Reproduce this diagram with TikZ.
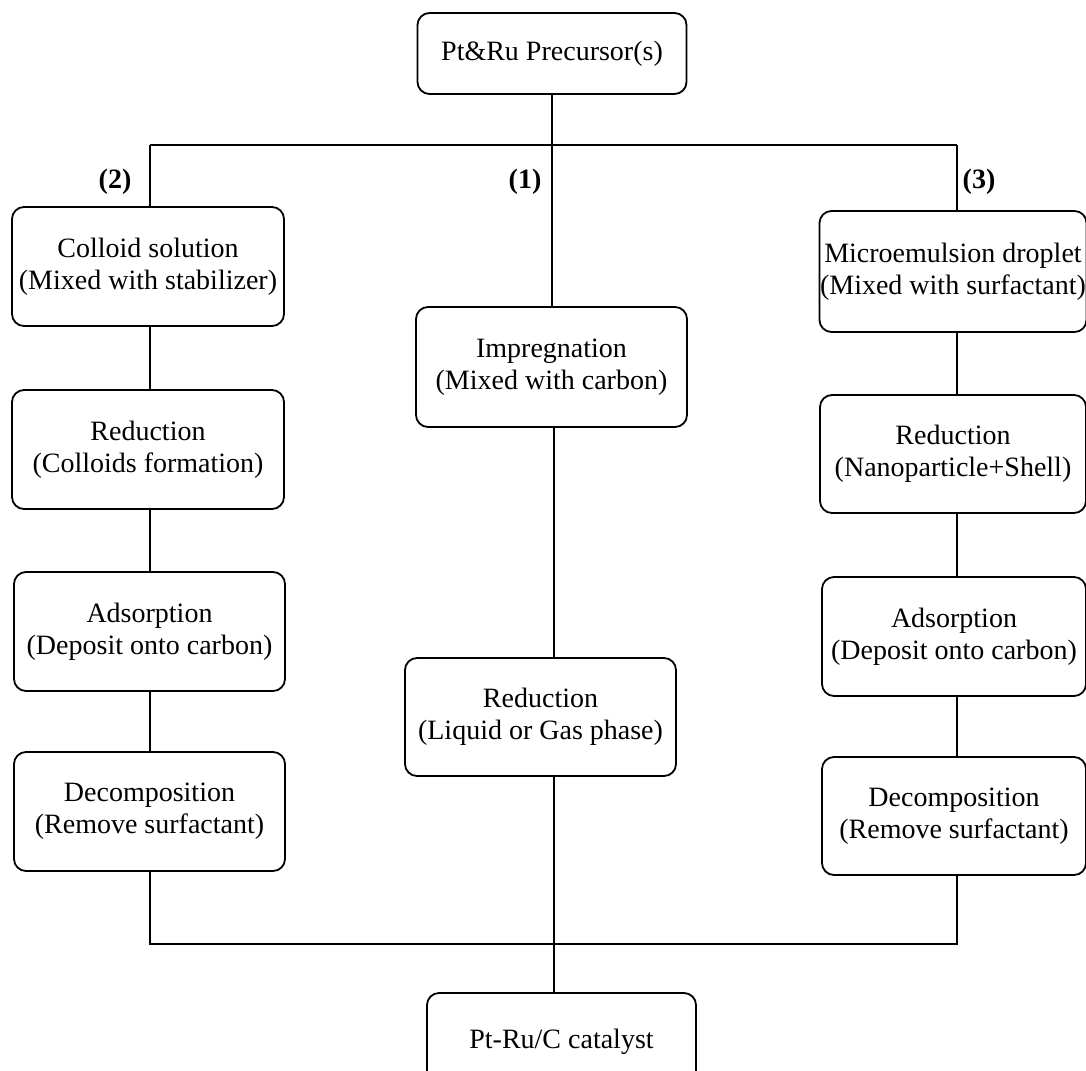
\documentclass[tikz,border=0pt]{standalone}
\usepackage{fontspec}
\setmainfont{Liberation Serif}
\begin{document}
\begin{tikzpicture}[x=1pt,y=-1pt,
  box/.style={draw, rounded corners=12pt, line width=1.8pt, align=center,
    font=\fontsize{28}{32}\selectfont, inner sep=0pt},
  conn/.style={line width=1.8pt},
  lab/.style={font=\fontsize{28}{32}\selectfont\bfseries}]
\useasboundingbox (0,0) rectangle (1086,1070);

% top
\node[box, minimum width=269pt, minimum height=81pt] (top) at (552,53.5) {Pt\&Ru Precursor(s)};

% left column
\node[box, minimum width=272pt, minimum height=119pt] (colloid) at (148,266.5) {Colloid solution\\(Mixed with stabilizer)};
\node[box, minimum width=272pt, minimum height=119pt] (redL) at (148,449.5) {Reduction\\(Colloids formation)};
\node[box, minimum width=271pt, minimum height=119pt] (adsL) at (149.5,631.5) {Adsorption\\(Deposit onto carbon)};
\node[box, minimum width=271pt, minimum height=119pt] (decL) at (149.5,811.5) {Decomposition\\(Remove surfactant)};

% center column
\node[box, minimum width=271pt, minimum height=120pt] (imp) at (551.5,367) {Impregnation\\(Mixed with carbon)};
\node[box, minimum width=271pt, minimum height=118pt] (redC) at (540.5,717) {Reduction\\(Liquid or Gas phase)};
\node[box, minimum width=269pt, minimum height=97pt] (final) at (561.5,1041.5) {Pt-Ru/C catalyst};

% right column
\node[box, minimum width=267pt, minimum height=121pt] (micro) at (953,271.5) {Microemulsion droplet\\(Mixed with surfactant)};
\node[box, minimum width=266pt, minimum height=118pt] (redR) at (953,454) {Reduction\\(Nanoparticle+Shell)};
\node[box, minimum width=264pt, minimum height=119pt] (adsR) at (954,636.5) {Adsorption\\(Deposit onto carbon)};
\node[box, minimum width=264pt, minimum height=118pt] (decR) at (954,816) {Decomposition\\(Remove surfactant)};

% labels
\node[lab] (l2) at (115,182) {(2)};
\node[lab] (l1) at (525,182) {(1)};
\node[lab] (l3) at (979,182) {(3)};

% junction coordinates
\coordinate (hl) at (150,145);
\coordinate (hr) at (957,145);
\coordinate (ht) at (552,145);
\coordinate (ct) at (554,944);
\coordinate (bl) at (150,944);
\coordinate (br) at (957,944);

% connectors top
\draw[conn] (top.south -| ht) -- (imp.north -| ht);
\draw[conn] (hl) -- (hr);
\draw[conn] (hl) -- (colloid.north -| hl);
\draw[conn] (hr) -- (micro.north -| hr);

% left chain
\draw[conn] (colloid.south -| hl) -- (redL.north -| hl);
\draw[conn] (redL.south -| hl) -- (adsL.north -| hl);
\draw[conn] (adsL.south -| hl) -- (decL.north -| hl);

% center chain
\draw[conn] (imp.south -| ct) -- (redC.north -| ct);
\draw[conn] (redC.south -| ct) -- (final.north -| ct);

% right chain
\draw[conn] (micro.south -| hr) -- (redR.north -| hr);
\draw[conn] (redR.south -| hr) -- (adsR.north -| hr);
\draw[conn] (adsR.south -| hr) -- (decR.north -| hr);

% bottom merge
\draw[conn] (decL.south -| bl) -- (bl) -- (br) -- (decR.south -| br);
\end{tikzpicture}
\end{document}
